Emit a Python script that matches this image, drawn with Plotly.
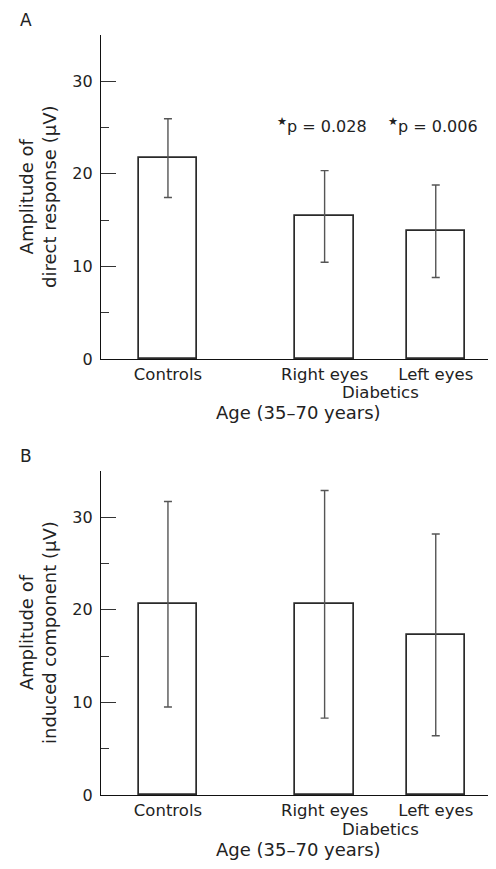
import plotly.graph_objects as go

categories = ["Controls", "Right eyes", "Left eyes"]
group_label = "Diabetics"
x_title = "Age (35–70 years)"

direct_mean = [21.7, 15.4, 13.8]
direct_err = [4.25, 4.95, 5.0]
induced_mean = [20.6, 20.6, 17.3]
induced_err = [11.1, 12.3, 10.9]

p_labels = ["", "p = 0.028", "p = 0.006"]
p_y = 25.2

y_titles = ["Amplitude of<br>direct response (μV)", "Amplitude of<br>induced component (μV)"]
panel_letters = ["A", "B"]

# layout (category positions along the x axis, arbitrary units)
x_pos = [1.0, 3.34, 5.0]
x_range = [0, 5.9]
bar_width = 0.87

FONT = "DejaVu Sans"
TXT = "#222222"

fig = go.Figure()

panels = [(direct_mean, direct_err, "x", "y"), (induced_mean, induced_err, "x2", "y2")]
for means, errs, xa, ya in panels:
    fig.add_trace(go.Bar(
        x=x_pos, y=means, width=bar_width, xaxis=xa, yaxis=ya,
        marker=dict(color="white", line=dict(color="#2a2a2a", width=1.7)),
        error_y=dict(type="data", array=errs, visible=True, color="#555555",
                     thickness=1.4, width=4),
        showlegend=False, hoverinfo="skip",
    ))

axis_common_x = dict(
    range=x_range, tickvals=x_pos, ticktext=categories, showline=True,
    linecolor="#111111", linewidth=1.4, ticks="", showgrid=False, zeroline=False,
    tickfont=dict(family=FONT, size=16.5, color=TXT), fixedrange=True,
)
axis_common_y = dict(
    range=[0, 35], tickvals=[0, 10, 20, 30], showline=True, linecolor="#111111",
    linewidth=1.4, ticks="inside", ticklen=15, tickwidth=1.3, tickcolor="#333333",
    minor=dict(dtick=5, ticks="inside", ticklen=8, tickwidth=1.2, tickcolor="#333333"),
    showgrid=False, zeroline=False, ticklabelstandoff=4,
    tickfont=dict(family=FONT, size=16, color=TXT), fixedrange=True,
)

# page body has an 8px default margin, so the figure is sized to fit the window
fig.update_layout(
    width=488, height=861,
    margin=dict(l=93, r=0, t=27, b=74),
    paper_bgcolor="white", plot_bgcolor="white",
    bargap=0,
    xaxis=dict(domain=[0, 1], anchor="y", **axis_common_x),
    yaxis=dict(domain=[0.5737, 1.0], anchor="x", **axis_common_y),
    xaxis2=dict(domain=[0, 1], anchor="y2", **axis_common_x),
    yaxis2=dict(domain=[0.0, 0.4263], anchor="x2", **axis_common_y),
)

annotations = []
for i, (xa, ya) in enumerate([("x", "y"), ("x2", "y2")]):
    annotations.append(dict(
        x=(x_pos[1] + x_pos[2]) / 2, y=0, xref=xa, yref=ya, yshift=-34,
        text=group_label, showarrow=False, xanchor="center", yanchor="middle",
        font=dict(family=FONT, size=16.5, color=TXT),
    ))
    annotations.append(dict(
        x=0.5, y=0, xref=xa + " domain", yref=ya, yshift=-54,
        text=x_title, showarrow=False, xanchor="center", yanchor="middle",
        font=dict(family=FONT, size=18, color=TXT),
    ))
    annotations.append(dict(
        x=0, y=0.5, xref=xa + " domain", yref=ya + " domain", xshift=-63,
        text=y_titles[i], showarrow=False, textangle=-90,
        xanchor="center", yanchor="middle",
        font=dict(family=FONT, size=18, color=TXT),
    ))
    annotations.append(dict(
        x=0, y=1, xref=xa + " domain", yref=ya + " domain", xshift=-75, yshift=15,
        text=panel_letters[i], showarrow=False, xanchor="center", yanchor="middle",
        font=dict(family=FONT, size=17, color=TXT),
    ))

for xp, lab in zip(x_pos, p_labels):
    if lab:
        annotations.append(dict(
            x=xp, y=p_y, xref="x", yref="y", xshift=-3,
            text="<sup>★</sup>" + lab, showarrow=False,
            xanchor="center", yanchor="middle",
            font=dict(family=FONT, size=16, color=TXT),
        ))

fig.update_layout(annotations=annotations)

fig.write_html("out.html")
